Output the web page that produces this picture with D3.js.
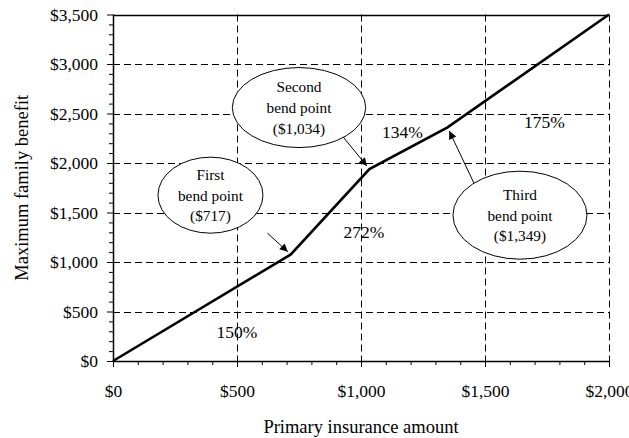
<!DOCTYPE html>
<html>
<head>
<meta charset="utf-8">
<script src="https://cdn.jsdelivr.net/npm/d3@7"></script>
<style>
  html, body { margin: 0; padding: 0; background: #fff; }
  svg { display: block; }
  text { font-family: "Liberation Serif", "Times New Roman", serif; fill: #000; }
</style>
</head>
<body>
<svg id="chart" width="629" height="438"></svg>
<script>
// Maximum family benefit formula: PIA (x) vs. family maximum (y)
const piaAmounts = [0, 717, 1034, 1349, 2000];
const familyMaximum = [0, 1076, 1938, 2360, 3500];

// Rate applied in each PIA bracket
const bracketRates = ["150%", "272%", "134%", "175%"];

// Bend point callouts
const bendNames = ["First", "Second", "Third"];
const bendAmounts = [717, 1034, 1349];

// Axis ticks
const xTicks = [0, 500, 1000, 1500, 2000];
const yTicks = [0, 500, 1000, 1500, 2000, 2500, 3000, 3500];

const svg = d3.select("#chart");
const plotLeft = 113, plotRight = 609, plotTop = 14.5, plotBottom = 361;

const x = d3.scaleLinear().domain([0, 2000]).range([plotLeft, plotRight]);
const y = d3.scaleLinear().domain([0, 3500]).range([plotBottom, plotTop]);
const money = d3.format("$,");

// Dashed grid lines
const grid = svg.append("g").attr("stroke", "#000").attr("stroke-width", 1)
  .attr("stroke-dasharray", "7,4").attr("fill", "none");
grid.selectAll("line.h").data(yTicks.filter(v => v > 0 && v < 3500)).join("line")
  .attr("class", "h")
  .attr("x1", plotLeft).attr("x2", plotRight)
  .attr("y1", d => Math.round(y(d)) + 0.5).attr("y2", d => Math.round(y(d)) + 0.5);
grid.selectAll("line.v").data(xTicks.filter(v => v > 0)).join("line")
  .attr("class", "v")
  .attr("y1", plotTop).attr("y2", plotBottom)
  .attr("x1", d => Math.round(x(d)) + 0.5).attr("x2", d => Math.round(x(d)) + 0.5);

// Solid top border
svg.append("line")
  .attr("x1", plotLeft).attr("x2", plotRight)
  .attr("y1", Math.round(plotTop) + 0.5).attr("y2", Math.round(plotTop) + 0.5)
  .attr("stroke", "#000").attr("stroke-width", 1.3);

// Axes with minor ticks every $100
const minorX = d3.range(0, 2001, 100).filter(v => v % 500 !== 0);
const minorY = d3.range(0, 3501, 100).filter(v => v % 500 !== 0);

const xAxis = svg.append("g").attr("transform", `translate(0,${plotBottom})`);
xAxis.call(d3.axisBottom(x).tickValues(minorX).tickSize(4).tickFormat(""));
xAxis.call(g => g.selectAll(".domain").remove());
const xMajor = svg.append("g").attr("transform", `translate(0,${plotBottom})`)
  .call(d3.axisBottom(x).tickValues(xTicks).tickSize(6).tickPadding(18).tickFormat(money));
xMajor.select(".domain").attr("d", `M${plotLeft},0.5H${plotRight}`).attr("stroke-width", 1.5);
xMajor.selectAll("text").attr("font-size", 17.5).attr("font-family", "Liberation Serif");

const yAxis = svg.append("g").attr("transform", `translate(${plotLeft},0)`);
yAxis.call(d3.axisLeft(y).tickValues(minorY).tickSize(4).tickFormat(""));
yAxis.call(g => g.selectAll(".domain").remove());
const yMajor = svg.append("g").attr("transform", `translate(${plotLeft},0)`)
  .call(d3.axisLeft(y).tickValues(yTicks).tickSize(6).tickPadding(9).tickFormat(money));
yMajor.select(".domain").attr("d", `M0.5,${plotTop}V${plotBottom}`).attr("stroke-width", 1.5);
yMajor.selectAll("text").attr("font-size", 17.5).attr("font-family", "Liberation Serif");

// Axis titles
svg.append("text")
  .attr("x", (plotLeft + plotRight) / 2).attr("y", 433)
  .attr("text-anchor", "middle").attr("font-size", 18.5)
  .text("Primary insurance amount");
svg.append("text")
  .attr("transform", `translate(22,${(plotTop + plotBottom) / 2}) rotate(-90)`)
  .attr("text-anchor", "middle").attr("dominant-baseline", "central").attr("font-size", 18.5)
  .text("Maximum family benefit");

// Benefit formula line
const pts = piaAmounts.map((p, i) => [p, familyMaximum[i]]);
svg.append("path")
  .datum(pts)
  .attr("fill", "none").attr("stroke", "#000").attr("stroke-width", 2.6)
  .attr("stroke-linejoin", "miter")
  .attr("d", d3.line().x(d => x(d[0])).y(d => y(d[1])));

// Bracket rate labels (placed in data units)
const ratePlacement = [[500, 290], [1012, 1305], [1167, 2311], [1740, 2412]];
svg.selectAll("text.rate").data(bracketRates).join("text")
  .attr("class", "rate")
  .attr("x", (d, i) => x(ratePlacement[i][0]))
  .attr("y", (d, i) => y(ratePlacement[i][1]))
  .attr("text-anchor", "middle").attr("dominant-baseline", "central")
  .attr("font-size", 17.5)
  .text(d => d);

// Arrow marker
svg.append("defs").append("marker")
  .attr("id", "head").attr("viewBox", "0 0 10 10")
  .attr("refX", 10).attr("refY", 5)
  .attr("markerWidth", 11).attr("markerHeight", 8)
  .attr("markerUnits", "userSpaceOnUse")
  .attr("orient", "auto")
  .append("path").attr("d", "M0,0L10,5L0,10Z").attr("fill", "#000");

// Callout layout: ellipse centre (data units), radii (px), arrow start (px offset from centre)
const callouts = [
  { cx: 393, cy: 1675, rx: 52.5, ry: 38, ax: 57, ay: 38 },
  { cx: 750, cy: 2560, rx: 66.7, ry: 40, ax: 43, ay: 28 },
  { cx: 1641, cy: 1473, rx: 67, ry: 44, ax: -46, ay: -32 }
];

bendAmounts.forEach((amt, i) => {
  const c = callouts[i];
  const cx = x(c.cx), cy = y(c.cy);
  const k = piaAmounts.indexOf(amt);
  const bx = x(amt), by = y(familyMaximum[k]);
  const sx = cx + c.ax, sy = cy + c.ay;
  const dx = bx - sx, dy = by - sy, len = Math.hypot(dx, dy);
  const pull = 4;
  svg.append("line")
    .attr("x1", sx).attr("y1", sy)
    .attr("x2", bx - dx / len * pull).attr("y2", by - dy / len * pull)
    .attr("stroke", "#000").attr("stroke-width", 1)
    .attr("marker-end", "url(#head)");

  svg.append("ellipse")
    .attr("cx", cx).attr("cy", cy).attr("rx", c.rx).attr("ry", c.ry)
    .attr("fill", "#fff").attr("stroke", "#000").attr("stroke-width", 1);

  const lines = [bendNames[i], "bend point", "(" + money(amt) + ")"];
  svg.append("text")
    .attr("text-anchor", "middle").attr("font-size", 15.3)
    .selectAll("tspan").data(lines).join("tspan")
    .attr("x", cx)
    .attr("y", (d, j) => cy + (j - 1) * 20.7)
    .attr("dy", "0.35em")
    .text(d => d);
});
</script>
</body>
</html>
